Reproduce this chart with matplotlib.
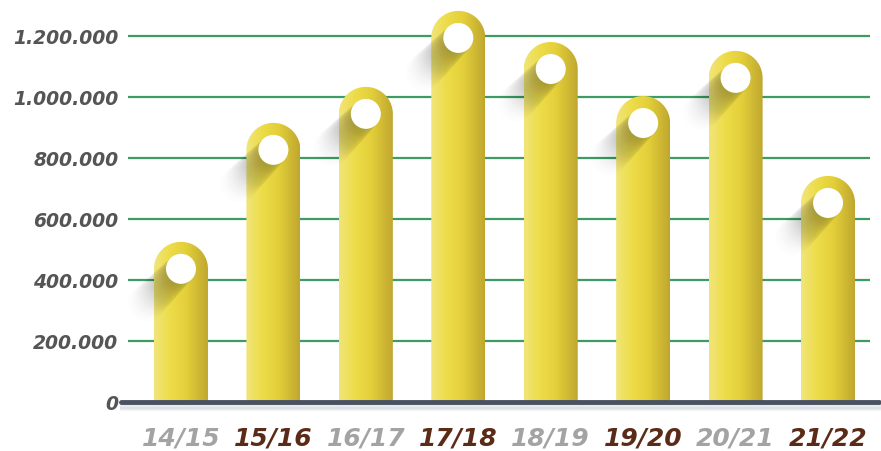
import numpy as np
import matplotlib.pyplot as plt
from matplotlib.path import Path
from matplotlib.patches import PathPatch, Ellipse
from matplotlib.colors import LinearSegmentedColormap

# data
seasons = ['14/15', '15/16', '16/17', '17/18', '18/19', '19/20', '20/21', '21/22']
values = [525000, 915000, 1033000, 1282000, 1180000, 1003000, 1151000, 741000]
yticks = [0, 200000, 400000, 600000, 800000, 1000000, 1200000]
ytick_labels = ['0', '200.000', '400.000', '600.000', '800.000', '1.000.000', '1.200.000']
label_colors = ['#a3a3a3', '#5a2b17', '#a3a3a3', '#5a2b17',
                '#a3a3a3', '#5a2b17', '#a3a3a3', '#5a2b17']

W, H = 881, 452
fig = plt.figure(figsize=(W / 100, H / 100), dpi=100)
ax_w, ax_h = 742, 403
ax = fig.add_axes([128 / W, (H - 403) / H, ax_w / W, ax_h / H])

x0, x1 = -0.573, 7.454
y0, y1 = 0, 1321000
sx = (x1 - x0) / ax_w   # data units per pixel
sy = (y1 - y0) / ax_h

bar_r = 27      # half width / cap radius, px
hole_r = 15     # white circle radius, px

cmap = LinearSegmentedColormap.from_list(
    'bar', [(0, '#f1e57a'), (0.3, '#eddc48'), (0.6, '#e3cf3a'), (1, '#bfa72f')])
grad = np.linspace(0, 1, 256).reshape(1, -1)

for i, v in enumerate(values):
    hw = bar_r * sx
    cy = v - bar_r * sy
    t = np.linspace(np.pi, 0, 40)
    verts = [(i - hw, 0), (i - hw, cy)]
    verts += list(zip(i + hw * np.cos(t), cy + bar_r * sy * np.sin(t)))
    verts += [(i + hw, 0), (i - hw, 0)]
    codes = [Path.MOVETO] + [Path.LINETO] * (len(verts) - 2) + [Path.CLOSEPOLY]
    patch = PathPatch(Path(verts, codes), facecolor='none', edgecolor='none', zorder=3)
    ax.add_patch(patch)
    im = ax.imshow(grad, cmap=cmap, extent=[i - hw, i + hw, 0, v],
                   aspect='auto', zorder=3, interpolation='bilinear')
    im.set_clip_path(patch)

    # long soft shadow toward lower left
    n = 30
    for k in range(n):
        d = k * 1.3
        r = hole_r + k * 0.12
        ax.add_patch(Ellipse((i - d * sx, cy - d * sy), 2 * r * sx, 2 * r * sy,
                             facecolor='#222222', edgecolor='none',
                             alpha=0.028 * (1 - k / n), zorder=4))
    ax.add_patch(Ellipse((i, cy), 2 * hole_r * sx, 2 * hole_r * sy,
                         facecolor='white', edgecolor='none', zorder=5))

ax.set_xlim(x0, x1)
ax.set_ylim(y0, y1)

# grid lines
for yt in yticks[1:]:
    ax.axhline(yt, color='#3e9b63', lw=1.6, zorder=1)

# base line with soft shadow
for k in range(6):
    ax.plot([-0.01, 1.012], [-(k + 1) * 1.2 / ax_h] * 2, transform=ax.transAxes,
            color='#9aa0a8', alpha=0.12, lw=2, clip_on=False, zorder=5)
ax.plot([-0.01, 1.012], [0, 0], transform=ax.transAxes, color='#4a5162',
        lw=3.5, clip_on=False, zorder=6, solid_capstyle='round')

for s in ax.spines.values():
    s.set_visible(False)
ax.set_yticks(yticks)
ax.set_yticklabels(ytick_labels, fontsize=13.5, fontweight='bold', fontstyle='italic',
                   color='#555555')
ax.set_xticks(range(len(seasons)))
ax.set_xticklabels(seasons, fontsize=18, fontweight='bold', fontstyle='italic')
for lab, c in zip(ax.get_xticklabels(), label_colors):
    lab.set_color(c)
ax.tick_params(axis='y', length=0, pad=7)
ax.tick_params(axis='x', length=0, pad=17)

fig.savefig('out.png', dpi=100)
